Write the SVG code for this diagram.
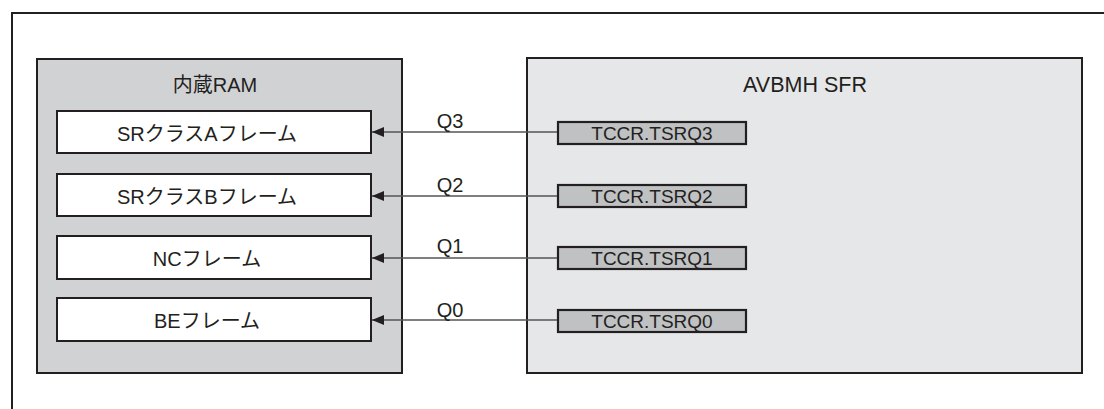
<svg xmlns="http://www.w3.org/2000/svg" width="1104" height="409" viewBox="0 0 1104 409">
<defs>
<style>
.t{font-family:"Liberation Sans","Noto Sans CJK JP",sans-serif;fill:#231f20;text-anchor:middle}
.frame{fill:none;stroke:#231f20;stroke-width:2}
.ram{fill:#d1d2d4;stroke:#231f20;stroke-width:2}
.sfr{fill:#e6e7e8;stroke:#231f20;stroke-width:2}
.fr{fill:#ffffff;stroke:#231f20;stroke-width:2}
.reg{fill:#c0c1c3;stroke:#231f20;stroke-width:2.2}
.con{stroke:#555555;stroke-width:1.3;fill:none;marker-end:url(#ah)}
</style>
<marker id="ah" markerUnits="userSpaceOnUse" markerWidth="12" markerHeight="10" refX="12" refY="5" orient="auto">
<path d="M0,0 L12,5 L0,10 Z" fill="#231f20"/>
</marker>
</defs>
<rect width="1104" height="409" fill="#ffffff"/>
<rect class="frame" x="12" y="13" width="1110" height="420"/>
<g id="ram">
<rect class="ram" x="37" y="59" width="365" height="314"/>
<text class="t" x="215" y="92" font-size="20">内蔵RAM</text>
</g>
<g id="sfr">
<rect class="sfr" x="527" y="58" width="555" height="315"/>
<text class="t" x="805" y="92" font-size="21.5">AVBMH SFR</text>
</g>
<g id="frameA">
<rect class="fr" x="57" y="111" width="314" height="42"/>
<text class="t" x="207" y="141" font-size="20">SRクラスAフレーム</text>
</g>
<g id="frameB">
<rect class="fr" x="57" y="174" width="314" height="42"/>
<text class="t" x="207" y="204" font-size="20">SRクラスBフレーム</text>
</g>
<g id="frameNC">
<rect class="fr" x="57" y="236" width="314" height="43"/>
<text class="t" x="207" y="266" font-size="20">NCフレーム</text>
</g>
<g id="frameBE">
<rect class="fr" x="57" y="298" width="314" height="43"/>
<text class="t" x="207" y="328" font-size="20">BEフレーム</text>
</g>
<g id="reg3">
<rect class="reg" x="558" y="122" width="188" height="22"/>
<text class="t" x="652" y="140" font-size="19">TCCR.TSRQ3</text>
</g>
<g id="reg2">
<rect class="reg" x="558" y="185" width="188" height="22"/>
<text class="t" x="652" y="203" font-size="19">TCCR.TSRQ2</text>
</g>
<g id="reg1">
<rect class="reg" x="558" y="247" width="188" height="22"/>
<text class="t" x="652" y="265" font-size="19">TCCR.TSRQ1</text>
</g>
<g id="reg0">
<rect class="reg" x="558" y="310" width="188" height="22"/>
<text class="t" x="652" y="328" font-size="19">TCCR.TSRQ0</text>
</g>
<g id="connectors">
<line class="con" x1="557" y1="132" x2="372" y2="132"/>
<line class="con" x1="557" y1="196" x2="372" y2="196"/>
<line class="con" x1="557" y1="258" x2="372" y2="258"/>
<line class="con" x1="557" y1="320" x2="372" y2="320"/>
<text class="t" x="450" y="128" font-size="20">Q3</text>
<text class="t" x="450" y="192" font-size="20">Q2</text>
<text class="t" x="450" y="253" font-size="20">Q1</text>
<text class="t" x="450" y="317" font-size="20">Q0</text>
</g>
</svg>
